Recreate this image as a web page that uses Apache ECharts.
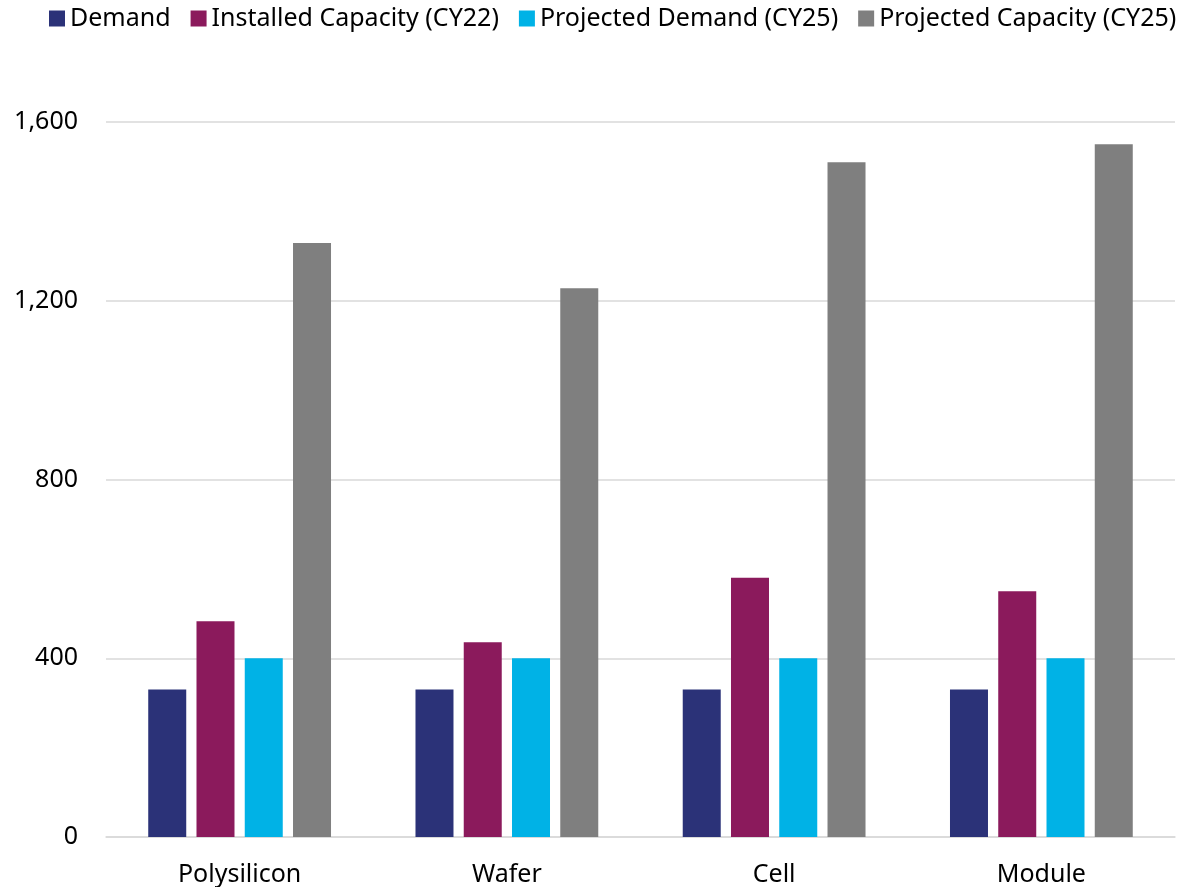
<!DOCTYPE html>
<html>
<head>
<meta charset="utf-8">
<script src="https://cdn.jsdelivr.net/npm/echarts@6/dist/echarts.min.js"></script>
<style>
  html, body { margin: 0; padding: 0; background: #fff; }
  #chart { width: 1185px; height: 887px; }
</style>
</head>
<body>
<div id="chart"></div>
<script>
// categories and values
var categories = ['Polysilicon', 'Wafer', 'Cell', 'Module'];
var demand = [330, 330, 330, 330];
var installedCY22 = [483, 436, 580, 550];
var projectedDemandCY25 = [400, 400, 400, 400];
var projectedCapacityCY25 = [1329, 1228, 1510, 1550];
var yTicks = [0, 400, 800, 1200, 1600];

var font = 'Noto Sans';
var chart = echarts.init(document.getElementById('chart'));

chart.setOption({
  animation: false,
  color: ['#2B3278', '#8B1A5C', '#00B2E6', '#7F7F7F'],
  legend: {
    top: 1,
    left: 44,
    itemWidth: 16,
    itemHeight: 16,
    itemGap: 20,
    icon: 'rect',
    textStyle: { fontFamily: font, fontSize: 25, color: '#000' },
    data: ['Demand', 'Installed Capacity (CY22)', 'Projected Demand (CY25)', 'Projected Capacity (CY25)']
  },
  grid: { left: 106, right: 10, top: 122, bottom: 50 },
  xAxis: {
    type: 'category',
    data: categories,
    axisTick: { show: false },
    axisLine: { lineStyle: { color: '#D9D9D9', width: 1.5 } },
    axisLabel: { fontFamily: font, fontSize: 25, color: '#000', margin: 25 }
  },
  yAxis: {
    type: 'value',
    min: yTicks[0],
    max: yTicks[yTicks.length - 1],
    interval: 400,
    axisLine: { show: false },
    axisTick: { show: false },
    splitLine: { lineStyle: { color: '#D9D9D9', width: 1.5 } },
    axisLabel: {
      fontFamily: font, fontSize: 25, color: '#000', margin: 28,
      formatter: function (v) { return v.toLocaleString('en-US'); }
    }
  },
  series: [
    { name: 'Demand', type: 'bar', data: demand, barWidth: 38, barGap: '27%' },
    { name: 'Installed Capacity (CY22)', type: 'bar', data: installedCY22, barWidth: 38, barGap: '27%' },
    { name: 'Projected Demand (CY25)', type: 'bar', data: projectedDemandCY25, barWidth: 38, barGap: '27%' },
    { name: 'Projected Capacity (CY25)', type: 'bar', data: projectedCapacityCY25, barWidth: 38, barGap: '27%' }
  ]
});
</script>
</body>
</html>
